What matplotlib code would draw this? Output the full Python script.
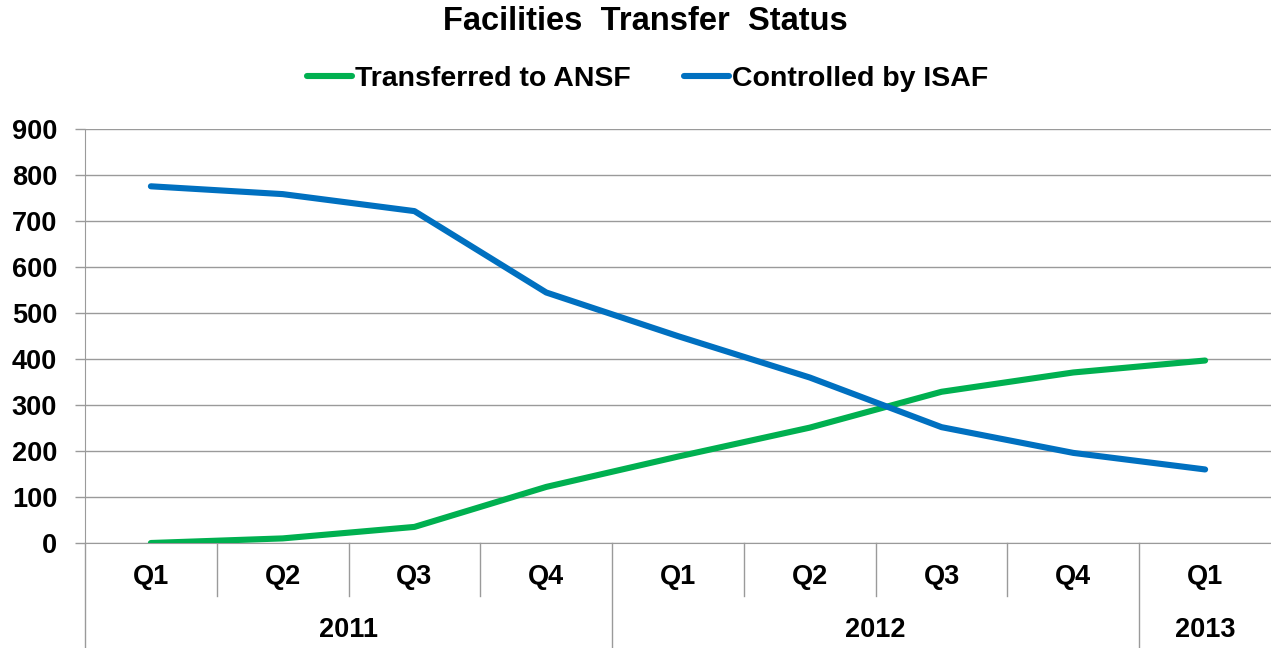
import matplotlib.pyplot as plt
from matplotlib.lines import Line2D

plt.rcParams['font.family'] = ['Liberation Sans', 'DejaVu Sans']
plt.rcParams['font.weight'] = 'bold'

quarters = ['Q1', 'Q2', 'Q3', 'Q4', 'Q1', 'Q2', 'Q3', 'Q4', 'Q1']
years = ['2011', '2012', '2013']
year_counts = [4, 4, 1]

transferred = [0, 10, 35, 122, 188, 251, 329, 371, 397]
controlled = [776, 759, 722, 545, 450, 360, 252, 196, 160]

green = '#00B050'
blue = '#0070C0'
grid_color = '#9a9a9a'


def draw_chart():
    fig = plt.figure(figsize=(12.71, 6.48), dpi=100)
    ax = fig.add_axes([85 / 1271, 105 / 648, 1186 / 1271, 413.7 / 648])

    x = list(range(len(quarters)))
    ax.plot(x, transferred, color=green, lw=4.4, solid_capstyle='round',
            solid_joinstyle='round', label='Transferred to ANSF', zorder=3)
    ax.plot(x, controlled, color=blue, lw=4.4, solid_capstyle='round',
            solid_joinstyle='round', label='Controlled by ISAF', zorder=3)

    ax.set_xlim(-0.5, len(quarters) - 0.5)
    ax.set_ylim(0, 900)
    ax.set_yticks(range(0, 901, 100))
    ax.yaxis.grid(True, color=grid_color, lw=1)
    ax.set_axisbelow(True)
    ax.tick_params(axis='y', labelsize=19.5, length=7, width=1,
                   color=grid_color, pad=13)
    ax.set_xticks([])

    for side in ['top', 'right']:
        ax.spines[side].set_visible(False)
    ax.spines['bottom'].set_color(grid_color)
    ax.spines['left'].set_color(grid_color)

    # multi-level category axis
    trans = ax.get_xaxis_transform()
    q_bottom = -0.128
    y_bottom = -0.26
    for i, q in enumerate(quarters):
        ax.text(i, -0.082, q, transform=trans, ha='center', va='center',
                fontsize=19.5)

    start = -0.5
    ax.add_line(Line2D([start, start], [0, y_bottom], transform=trans,
                       color=grid_color, lw=1, clip_on=False))
    pos = 0
    for yr, n in zip(years, year_counts):
        for k in range(1, n):
            xs = pos + k - 0.5
            ax.add_line(Line2D([xs, xs], [0, q_bottom], transform=trans,
                               color=grid_color, lw=1, clip_on=False))
        end = pos + n - 0.5
        ax.text((pos - 0.5 + end) / 2, -0.21, yr, transform=trans,
                ha='center', va='center', fontsize=19.5)
        if pos + n < len(quarters):
            ax.add_line(Line2D([end, end], [0, y_bottom], transform=trans,
                               color=grid_color, lw=1, clip_on=False))
        pos += n

    fig.text(0.5075, 1 - 22 / 648, 'Facilities  Transfer  Status',
             ha='center', va='center', fontsize=23.5)
    fig.legend(loc='center', bbox_to_anchor=(0.5095, 1 - 79 / 648), ncol=2,
               frameon=False, fontsize=20.5, handlelength=1.6,
               handletextpad=0.1, columnspacing=1.85)

    fig.savefig('out.png', dpi=100)


def main():
    draw_chart()


if __name__ == "__main__":
    main()
